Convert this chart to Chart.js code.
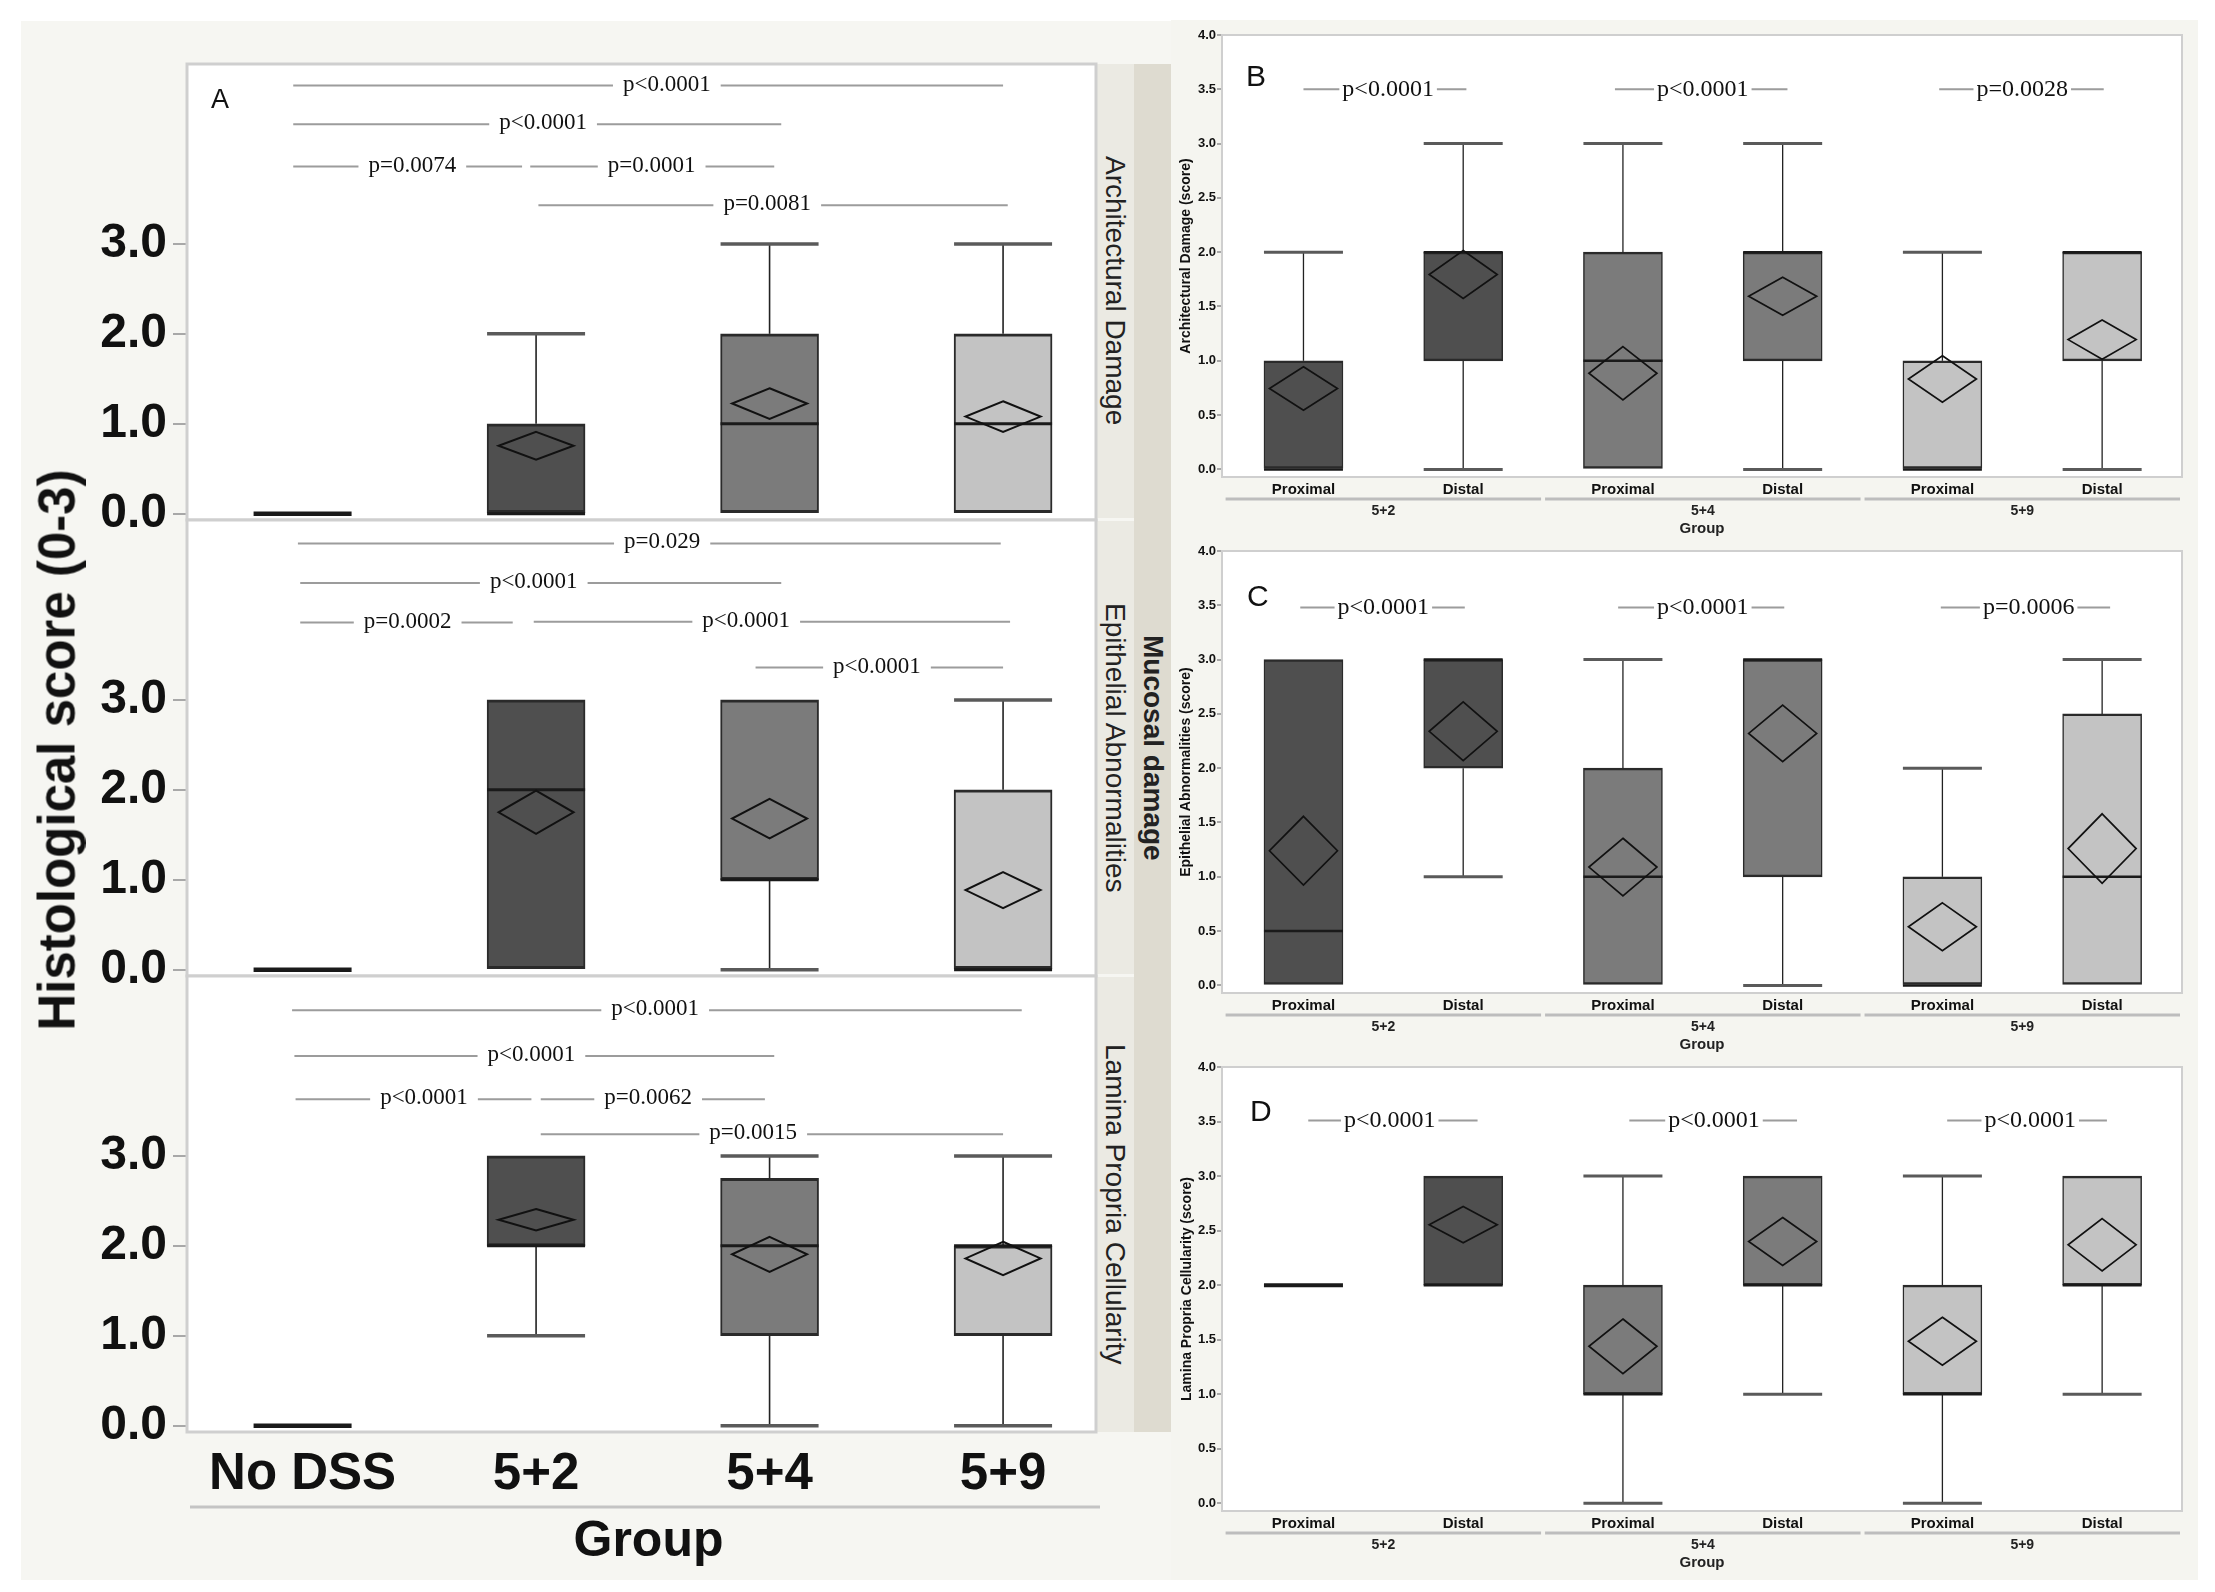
<!DOCTYPE html>
<html>
<head>
<meta charset="utf-8">
<script src="https://cdn.jsdelivr.net/npm/chart.js@4.4.0/dist/chart.umd.min.js"></script>
<style>
body { margin: 0; background: #fff; }
#page { position: relative; width: 2215px; height: 1592px; overflow: hidden; font-family: "Liberation Sans", Arial, sans-serif; }
canvas { position: absolute; }
.bg { position: absolute; }
.t { position: absolute; white-space: nowrap; color: #111; line-height: 1; }
.rot { transform: translate(-50%, -50%) rotate(-90deg); }
.strip { position: absolute; display: flex; align-items: center; justify-content: center; writing-mode: vertical-rl; color: #222; white-space: nowrap; }
</style>
</head>
<body>
<div id="page">
  <div class="bg" style="left:21px;top:21px;width:1150px;height:1559px;background:#f6f6f2"></div>
  <div class="bg" style="left:1171px;top:20px;width:1027px;height:1560px;background:#f5f5f0"></div>

  <div class="strip" style="left:1096px;top:64px;width:38px;height:454px;background:#ebeae3;font-size:28px">Architectural Damage</div>
  <div class="strip" style="left:1096px;top:521px;width:38px;height:453px;background:#ebeae3;font-size:28px">Epithelial Abnormalities</div>
  <div class="strip" style="left:1096px;top:977px;width:38px;height:455px;background:#ebeae3;font-size:28px">Lamina Propria Cellularity</div>
  <div class="strip" style="left:1134px;top:64px;width:37px;height:1368px;background:#dedbd0;font-size:28px;font-weight:bold">Mucosal damage</div>

  <canvas id="a1" width="1100" height="556" style="left:0;top:14px"></canvas>
  <canvas id="a2" width="1100" height="556" style="left:0;top:470px"></canvas>
  <canvas id="a3" width="1100" height="654" style="left:0;top:926px"></canvas>
  <canvas id="b" width="1040" height="530" style="left:1160px;top:15px"></canvas>
  <canvas id="c" width="1040" height="530" style="left:1160px;top:531px"></canvas>
  <canvas id="d" width="1040" height="530" style="left:1160px;top:1047px"></canvas>

  <div class="t rot" style="left:57px;top:750px;font-size:51px;font-weight:bold">Histological score (0-3)</div>
  <div class="t" style="left:211px;top:86px;font-size:27px">A</div>
  <div class="t" style="left:1246px;top:61px;font-size:30px">B</div>
  <div class="t" style="left:1247px;top:581px;font-size:30px">C</div>
  <div class="t" style="left:1250px;top:1096px;font-size:30px">D</div>
  <div class="t rot" style="left:1185px;top:256px;font-size:14px;font-weight:bold">Architectural Damage (score)</div>
  <div class="t rot" style="left:1185px;top:772px;font-size:14px;font-weight:bold">Epithelial Abnormalities (score)</div>
  <div class="t rot" style="left:1186px;top:1289px;font-size:14px;font-weight:bold">Lamina Propria Cellularity (score)</div>
</div>

<script>
// panel A: groups, box summaries [min, q1, median, q3, max], mean and half height of the mean diamond
const groupsA = ['No DSS', '5+2', '5+4', '5+9'];

const archFive = [[0, 0, 0, 0, 0], [0, 0, 0, 1, 2], [0, 0, 1, 2, 3], [0, 0, 1, 2, 3]];
const archMean = [null, 0.755, 1.225, 1.08];
const archHalf = [0, 0.155, 0.17, 0.17];

const epiFive = [[0, 0, 0, 0, 0], [0, 0, 2, 3, 3], [0, 1, 1, 3, 3], [0, 0, 0, 2, 3]];
const epiMean = [null, 1.75, 1.68, 0.885];
const epiHalf = [0, 0.24, 0.22, 0.2];

const lamFive = [[0, 0, 0, 0, 0], [1, 2, 2, 3, 3], [0, 1, 2, 2.75, 3], [0, 1, 2, 2, 3]];
const lamMean = [null, 2.29, 1.905, 1.86];
const lamHalf = [0, 0.12, 0.195, 0.185];

// comparisons: [from group, to group, height, label, label position]
const archSig = [
  [-0.04, 3.0, 4.76, 'p<0.0001', 1.56],
  [-0.04, 2.05, 4.33, 'p<0.0001', 1.03],
  [-0.04, 0.94, 3.86, 'p=0.0074', 0.47],
  [0.975, 2.02, 3.86, 'p=0.0001', 1.495],
  [1.01, 3.02, 3.43, 'p=0.0081', 1.99]
];
const epiSig = [
  [-0.02, 2.99, 4.74, 'p=0.029', 1.54],
  [-0.01, 2.05, 4.30, 'p<0.0001', 0.99],
  [-0.01, 0.90, 3.86, 'p=0.0002', 0.45],
  [0.99, 3.03, 3.87, 'p<0.0001', 1.90],
  [1.94, 3.0, 3.36, 'p<0.0001', 2.46]
];
const lamSig = [
  [-0.045, 3.08, 4.62, 'p<0.0001', 1.51],
  [-0.035, 2.02, 4.11, 'p<0.0001', 0.98],
  [-0.03, 0.98, 3.63, 'p<0.0001', 0.52],
  [1.02, 1.98, 3.63, 'p=0.0062', 1.48],
  [1.02, 3.0, 3.24, 'p=0.0015', 1.93]
];

// panels B, C, D: proximal / distal within each group
const partsR = ['Proximal', 'Distal', 'Proximal', 'Distal', 'Proximal', 'Distal'];
const groupsR = ['5+2', '5+4', '5+9'];

const bFive = [[0, 0, 0, 1, 2], [0, 1, 2, 2, 3], [0, 0, 1, 2, 3], [0, 1, 2, 2, 3], [0, 0, 0, 1, 2], [0, 1, 2, 2, 2]];
const bMean = [0.745, 1.795, 0.885, 1.595, 0.833, 1.195];
const bHalf = [0.2, 0.22, 0.245, 0.175, 0.214, 0.18];
const bSig = [[0.0, 1.02, 3.5, 'p<0.0001', 0.53], [1.95, 3.03, 3.5, 'p<0.0001', 2.5], [3.98, 5.01, 3.5, 'p=0.0028', 4.5]];

const cFive = [[0, 0, 0.5, 3, 3], [1, 2, 3, 3, 3], [0, 0, 1, 2, 3], [0, 1, 3, 3, 3], [0, 0, 0, 1, 2], [0, 0, 1, 2.5, 3]];
const cMean = [1.24, 2.34, 1.09, 2.32, 0.54, 1.26];
const cHalf = [0.317, 0.27, 0.265, 0.26, 0.22, 0.32];
const cSig = [[-0.02, 1.01, 3.48, 'p<0.0001', 0.5], [1.97, 3.01, 3.48, 'p<0.0001', 2.5], [3.99, 5.05, 3.48, 'p=0.0006', 4.54]];

const dFive = [[2, 2, 2, 2, 2], [2, 2, 2, 3, 3], [0, 1, 1, 2, 3], [1, 2, 2, 3, 3], [0, 1, 1, 2, 3], [1, 2, 2, 3, 3]];
const dMean = [null, 2.555, 1.44, 2.40, 1.486, 2.37];
const dHalf = [0, 0.166, 0.25, 0.22, 0.22, 0.24];
const dSig = [[0.03, 1.09, 3.51, 'p<0.0001', 0.54], [2.04, 3.09, 3.51, 'p<0.0001', 2.57], [4.03, 5.03, 3.51, 'p<0.0001', 4.55]];

const ticksA = [0, 1, 2, 3];
const ticksR = [0, 0.5, 1, 1.5, 2, 2.5, 3, 3.5, 4];

const shadeA = ['#4c4c4c', '#4f4f4f', '#7b7b7b', '#c3c3c3'];
const shadeR = ['#4f4f4f', '#4f4f4f', '#7b7b7b', '#7b7b7b', '#c3c3c3', '#c3c3c3'];

// whiskers, medians, mean diamonds, comparison lines and frame
const boxPlot = {
  id: 'boxPlot',
  beforeDraw(chart, args, o) {
    const { ctx, chartArea: a } = chart;
    ctx.save();
    ctx.fillStyle = '#fff';
    ctx.fillRect(a.left, a.top, a.right - a.left, a.bottom - a.top);
    ctx.restore();
  },
  afterDatasetsDraw(chart, args, o) {
    const { ctx, chartArea: a, scales: { x, y } } = chart;
    const hw = o.boxW / 2;
    ctx.save();
    ctx.lineCap = 'butt';
    o.five.forEach((f, i) => {
      const cx = x.getPixelForValue(i);
      const [lo, q1, med, q3, hi] = f.map(v => y.getPixelForValue(v));
      ctx.strokeStyle = '#222';
      ctx.lineWidth = o.thin;
      ctx.beginPath();
      if (f[0] < f[1]) { ctx.moveTo(cx, lo); ctx.lineTo(cx, q1); }
      if (f[4] > f[3]) { ctx.moveTo(cx, q3); ctx.lineTo(cx, hi); }
      ctx.stroke();
      ctx.strokeStyle = '#5a5a5a';
      ctx.lineWidth = o.thick;
      ctx.beginPath();
      if (f[0] < f[1]) { ctx.moveTo(cx - hw, lo); ctx.lineTo(cx + hw, lo); }
      if (f[4] > f[3]) { ctx.moveTo(cx - hw, hi); ctx.lineTo(cx + hw, hi); }
      ctx.stroke();
      ctx.strokeStyle = '#1a1a1a';
      ctx.lineWidth = f[1] === f[3] ? o.thick + 1 : o.thick - 0.5;
      ctx.beginPath();
      ctx.moveTo(cx - hw, med); ctx.lineTo(cx + hw, med);
      ctx.stroke();
      if (o.mean[i] != null) {
        const m = y.getPixelForValue(o.mean[i]);
        const t = y.getPixelForValue(o.mean[i] + o.half[i]);
        const b = y.getPixelForValue(o.mean[i] - o.half[i]);
        const dw = o.diamondW / 2;
        ctx.strokeStyle = '#111';
        ctx.lineWidth = o.thin + 0.4;
        ctx.beginPath();
        ctx.moveTo(cx, t); ctx.lineTo(cx + dw, m); ctx.lineTo(cx, b); ctx.lineTo(cx - dw, m);
        ctx.closePath();
        ctx.stroke();
      }
    });

    ctx.font = o.sigFont;
    ctx.textAlign = 'center';
    ctx.textBaseline = 'middle';
    o.sig.forEach(([from, to, h, label, at]) => {
      const py = y.getPixelForValue(h);
      const x1 = x.getPixelForValue(from), x2 = x.getPixelForValue(to), tx = x.getPixelForValue(at);
      const gap = ctx.measureText(label).width / 2 + o.sigGap;
      ctx.strokeStyle = '#9c9c9c';
      ctx.lineWidth = 2;
      ctx.beginPath();
      if (tx - gap > x1) { ctx.moveTo(x1, py); ctx.lineTo(tx - gap, py); }
      if (tx + gap < x2) { ctx.moveTo(tx + gap, py); ctx.lineTo(x2, py); }
      ctx.stroke();
      ctx.fillStyle = '#111';
      ctx.fillText(label, tx, py + o.sigDy);
    });

    ctx.strokeStyle = '#cfcfcf';
    ctx.lineWidth = o.frame;
    ctx.strokeRect(a.left, a.top, a.right - a.left, a.bottom - a.top);

    if (o.groups) {
      const gy = a.bottom + 22;
      ctx.strokeStyle = '#bdbdbd';
      ctx.lineWidth = 3;
      ctx.fillStyle = '#222';
      ctx.font = 'bold 14px "Liberation Sans Narrow", "Liberation Sans", sans-serif';
      o.groups.forEach((g, k) => {
        const l = x.getPixelForValue(2 * k - 0.5) + 2, r = x.getPixelForValue(2 * k + 1.5) - 2;
        ctx.beginPath(); ctx.moveTo(l, gy); ctx.lineTo(r, gy); ctx.stroke();
        ctx.fillText(g, (l + r) / 2, a.bottom + 34);
      });
      ctx.font = 'bold 15px "Liberation Sans Narrow", "Liberation Sans", sans-serif';
      ctx.fillText('Group', (a.left + a.right) / 2, a.bottom + 52);
    }
    if (o.bigTitle) {
      ctx.strokeStyle = '#c4c4c4';
      ctx.lineWidth = 3;
      ctx.beginPath(); ctx.moveTo(a.left + 3, a.bottom + 75); ctx.lineTo(a.right + 18, a.bottom + 75); ctx.stroke();
      ctx.fillStyle = '#111';
      ctx.font = 'bold 50px "Liberation Sans", sans-serif';
      ctx.fillText(o.bigTitle, (a.left + a.right) / 2 + 7, a.bottom + 110);
    }
    ctx.restore();
  }
};

function makeChart(id, opt) {
  const points = opt.five.map((f, i) => ({ x: i, y: [f[1], f[3]] }));
  return new Chart(document.getElementById(id), {
    type: 'bar',
    data: {
      datasets: [{
        data: points,
        backgroundColor: opt.colors,
        borderColor: '#2a2a2a',
        borderWidth: opt.border,
        borderSkipped: false,
        barThickness: opt.boxW
      }]
    },
    options: {
      responsive: false,
      animation: false,
      devicePixelRatio: 1,
      layout: { padding: opt.pad },
      plugins: {
        legend: { display: false },
        tooltip: { enabled: false },
        boxPlot: {
          five: opt.five, mean: opt.mean, half: opt.half, sig: opt.sig,
          boxW: opt.boxW, diamondW: opt.diamondW, thin: opt.thin, thick: opt.thick,
          sigFont: opt.sigFont, sigGap: opt.sigGap, sigDy: opt.sigDy, frame: opt.frame,
          groups: opt.groups, bigTitle: opt.bigTitle
        }
      },
      scales: {
        x: {
          type: 'linear', min: opt.xMin, max: opt.xMax, display: opt.showX, offset: false,
          grid: { display: false, drawTicks: false, offset: false },
          border: { display: false },
          ticks: {
            font: opt.xFont, color: '#111', padding: opt.xPad, autoSkip: false, maxRotation: 0,
            callback: v => opt.labels[v]
          },
          afterBuildTicks: s => { s.ticks = opt.labels.map((l, i) => ({ value: i })); },
          afterFit: s => { s.height = opt.xH; }
        },
        y: {
          type: 'linear', min: opt.yMin, max: opt.yMax,
          border: { display: false },
          grid: { drawOnChartArea: false, tickLength: opt.tickLen, color: '#a8a8a8', lineWidth: 2 },
          ticks: { font: opt.yFont, color: '#111', padding: opt.yPad, callback: v => v.toFixed(1) },
          afterBuildTicks: s => { s.ticks = opt.yTicks.map(v => ({ value: v })); },
          afterFit: s => { s.width = opt.yW; }
        }
      }
    },
    plugins: [boxPlot]
  });
}

const sansBold = '"Liberation Sans", Arial, sans-serif';
const narrowBold = '"Liberation Sans Narrow", "Liberation Sans", sans-serif';

const baseA = {
  labels: groupsA, colors: shadeA, yTicks: ticksA,
  xMin: -0.495, xMax: 3.398, yMin: -0.07, yMax: 5.0,
  boxW: 98, diamondW: 75, thin: 1.6, thick: 3.5, border: { top: 3, bottom: 3, left: 2, right: 2 },
  sigFont: '23px "Liberation Serif", serif', sigGap: 10, sigDy: -1, frame: 3,
  yFont: { family: sansBold, size: 48, weight: 'bold' }, yPad: 6, tickLen: 14, yW: 187,
  xFont: { family: sansBold, size: 51, weight: 'bold' }, xPad: 12, xH: 0, showX: false,
  pad: { top: 50, bottom: 50, left: 0, right: 4 }
};
makeChart('a1', { ...baseA, five: archFive, mean: archMean, half: archHalf, sig: archSig });
makeChart('a2', { ...baseA, five: epiFive, mean: epiMean, half: epiHalf, sig: epiSig });
makeChart('a3', { ...baseA, five: lamFive, mean: lamMean, half: lamHalf, sig: lamSig,
  showX: true, xH: 80, bigTitle: 'Group', pad: { top: 50, bottom: 68, left: 0, right: 4 } });

const baseR = {
  labels: partsR, colors: shadeR, yTicks: ticksR, groups: groupsR,
  xMin: -0.51, xMax: 5.5, yMin: -0.07, yMax: 4.0,
  boxW: 79, diamondW: 68, thin: 1.3, thick: 3, border: { top: 2.5, bottom: 2.5, left: 1.5, right: 1.5 },
  sigFont: '24px "Liberation Serif", serif', sigGap: 3, sigDy: 0, frame: 2,
  yFont: { family: sansBold, size: 13, weight: 'bold' }, yPad: 1, tickLen: 5, yW: 62,
  xFont: { family: narrowBold, size: 15, weight: 'bold' }, xPad: 4, xH: 22, showX: true,
  pad: { top: 20, bottom: 46, left: 0, right: 18 }
};
makeChart('b', { ...baseR, five: bFive, mean: bMean, half: bHalf, sig: bSig });
makeChart('c', { ...baseR, five: cFive, mean: cMean, half: cHalf, sig: cSig });
makeChart('d', { ...baseR, five: dFive, mean: dMean, half: dHalf, sig: dSig, pad: { top: 20, bottom: 44, left: 0, right: 18 } });
</script>
</body>
</html>
